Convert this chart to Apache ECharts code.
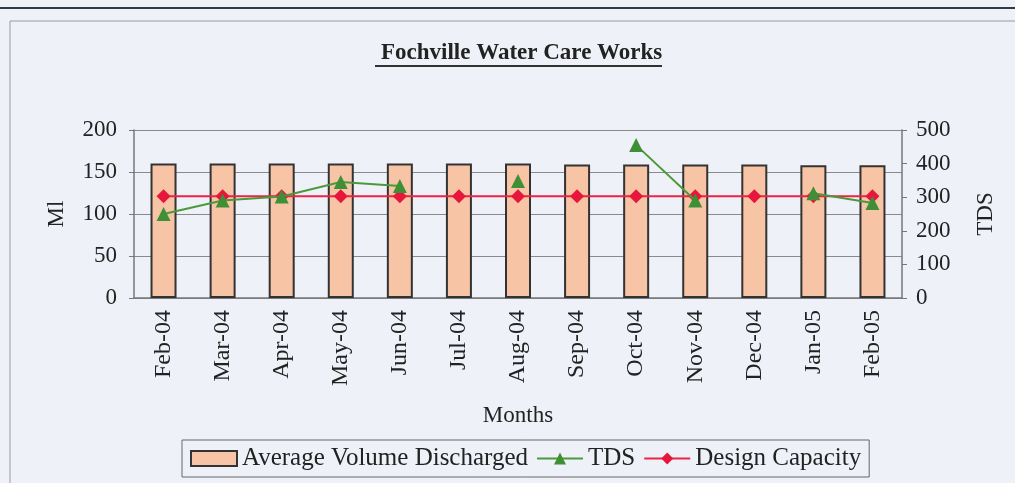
<!DOCTYPE html>
<html>
<head>
<meta charset="utf-8">
<script src="https://cdn.jsdelivr.net/npm/echarts@6/dist/echarts.min.js"></script>
<style>
html,body{margin:0;padding:0;background:#eef2f8;}
#chart{width:1015px;height:483px;}
</style>
</head>
<body>
<div id="chart"></div>
<script>
// categories and values
var months = ['Feb-04','Mar-04','Apr-04','May-04','Jun-04','Jul-04','Aug-04','Sep-04','Oct-04','Nov-04','Dec-04','Jan-05','Feb-05'];
var volume = [160,160,160,160,160,160,160,159,159,159,159,158,158];
var tds = [250,290,302,345,333,null,348,null,455,290,null,312,283];
var capacity = [121,121,121,121,121,121,121,121,121,121,121,121,121];
var leftTicks = [0,50,100,150,200];
var rightTicks = [0,100,200,300,400,500];

var serif = 'Liberation Serif';
var chart = echarts.init(document.getElementById('chart'));
var option = {
    backgroundColor: '#eef2f8',
    textStyle: {fontFamily: serif},
    title: {
        text: 'Fochville Water Care Works',
        left: 376,
        top: 37,
        textStyle: {fontFamily: serif, fontSize: 23, fontWeight: 'bold', color: '#222'}
    },
    graphic: [
        //top dark rule
        {type: 'rect', shape: {x: 0, y: 7, width: 1015, height: 2}, style: {fill: '#2e3a48'}},
        //outer frame
        {type: 'rect', shape: {x: 10, y: 21, width: 1010, height: 470}, style: {fill: 'none', stroke: '#9a9a9a', lineWidth: 1}},
        //title underline
        {type: 'rect', shape: {x: 375, y: 65, width: 287, height: 2}, style: {fill: '#333'}}
    ],
    legend: {
        bottom: 6,
        left: 182,
        itemGap: 8,
        itemWidth: 46,
        itemHeight: 15,
        padding: [6, 8, 6, 8],
        borderColor: '#666',
        borderWidth: 1,
        textStyle: {fontFamily: serif, fontSize: 25, color: '#222'},
        data: [
            {name: 'Average Volume Discharged', icon: 'rect', itemStyle: {borderColor: '#333', borderWidth: 2}},
            {name: 'TDS'},
            {name: 'Design Capacity'}
        ]
    },
    grid: {left: 134, right: 113, top: 130, bottom: 185},
    xAxis: {
        type: 'category',
        data: months,
        name: 'Months',
        nameLocation: 'middle',
        nameGap: 106,
        nameTextStyle: {fontFamily: serif, fontSize: 23, color: '#222'},
        axisLine: {lineStyle: {color: '#777', width: 1.5}},
        axisTick: {inside: false, length: 5, lineStyle: {color: '#777'}},
        axisLabel: {rotate: 90, fontFamily: serif, fontSize: 24, color: '#222', margin: 12}
    },
    yAxis: [
        {
            type: 'value',
            min: leftTicks[0],
            max: leftTicks[leftTicks.length - 1],
            interval: 50,
            name: 'Ml',
            nameLocation: 'middle',
            nameRotate: 90,
            nameGap: 66,
            nameTextStyle: {fontFamily: serif, fontSize: 23, color: '#222'},
            axisLine: {show: true, lineStyle: {color: '#777', width: 1.5}},
            axisTick: {show: true, length: 5, lineStyle: {color: '#777'}},
            axisLabel: {fontFamily: serif, fontSize: 23, color: '#222', margin: 17},
            splitLine: {lineStyle: {color: '#8a8a8a', width: 1}}
        },
        {
            type: 'value',
            min: rightTicks[0],
            max: rightTicks[rightTicks.length - 1],
            interval: 100,
            name: 'TDS',
            nameLocation: 'middle',
            nameRotate: 90,
            nameGap: 72,
            nameTextStyle: {fontFamily: serif, fontSize: 23, color: '#222'},
            axisLine: {show: true, lineStyle: {color: '#777', width: 1.5}},
            axisTick: {show: true, length: 5, lineStyle: {color: '#777'}},
            axisLabel: {fontFamily: serif, fontSize: 23, color: '#222', margin: 14},
            splitLine: {show: false}
        }
    ],
    series: [
        {
            name: 'Average Volume Discharged',
            type: 'bar',
            data: volume,
            barWidth: 26,
            itemStyle: {color: '#f8c4a6', borderColor: '#333', borderWidth: 2}
        },
        {
            name: 'TDS',
            type: 'line',
            yAxisIndex: 1,
            data: tds,
            connectNulls: false,
            symbol: 'triangle',
            symbolSize: 14,
            lineStyle: {color: '#4a9a3c', width: 2},
            itemStyle: {color: '#3f8f36'},
            z: 4
        },
        {
            name: 'Design Capacity',
            type: 'line',
            data: capacity,
            symbol: 'diamond',
            symbolSize: 14,
            lineStyle: {color: '#ee2245', width: 2},
            itemStyle: {color: '#e6163c'},
            z: 3
        }
    ]
};
chart.setOption(option);
</script>
</body>
</html>
